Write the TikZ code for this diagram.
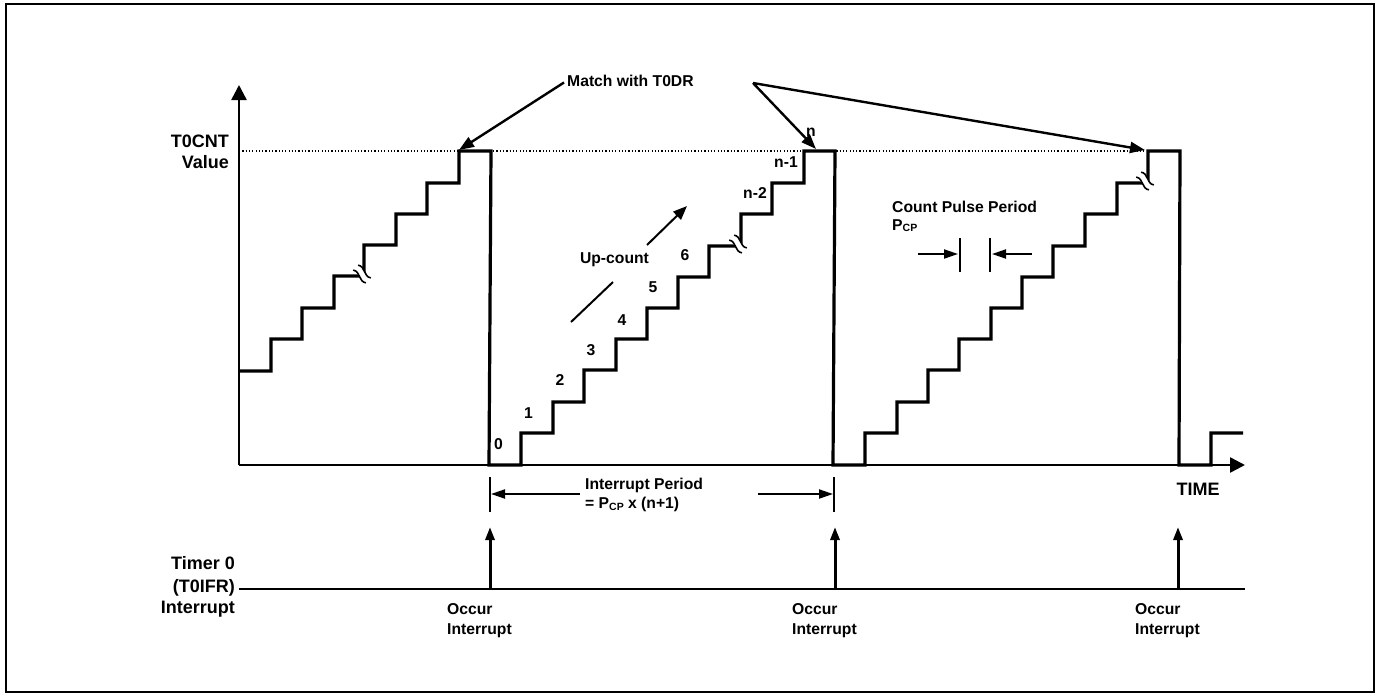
\documentclass[tikz,border=0pt]{standalone}
\usepackage{fontspec}
\setmainfont{Liberation Sans}
\usetikzlibrary{arrows.meta}
\newcommand{\pcp}{P\raisebox{-0.22ex}{\fontsize{10.5}{11}\selectfont CP}}
\begin{document}
\begin{tikzpicture}[x=1pt,y=-1pt,
  lbl/.style={font=\fontsize{15.7}{18}\selectfont\bfseries, inner sep=0pt, text height=11.3pt, text depth=0pt},
  biglbl/.style={font=\fontsize{18}{21}\selectfont\bfseries, inner sep=0pt, text height=12.9pt, text depth=0pt},
  wave/.style={line width=3.2pt, line join=miter},
  axisline/.style={line width=2.5pt, -{Triangle[length=15pt,width=15pt]}},
  matcharrow/.style={line width=2.4pt, -{Triangle[length=15pt,width=11pt]}},
  irqarrow/.style={line width=3pt, -{Triangle[length=13pt,width=9pt]}},
  dimarrow/.style={line width=2pt, -{Triangle[length=14pt,width=9pt]}},
  tick/.style={line width=1.5pt},
  brk/.pic={
    \begin{scope}[rotate=-45]
      \fill[white] (-9,-3.5) rectangle (9,3.5);
      \draw[line width=1.6pt] (-9,-3.5) .. controls (-3,-8) and (3,1) .. (9,-3.5);
      \draw[line width=1.6pt] (-9,3.5) .. controls (-3,-1) and (3,8) .. (9,3.5);
    \end{scope}}
]
\useasboundingbox (0,0) rectangle (1382,697);
\draw[line width=1.5pt] (6,4) rectangle (1374,692);

% axes
\coordinate (O) at (239,465);
\coordinate (ytip) at (239,85);
\coordinate (xtip) at (1245,465);
\draw[axisline] (O) -- (ytip);
\draw[axisline] (O) -- (xtip);

% dotted match level
\coordinate (dotL) at (239,151);
\coordinate (dotR) at (1148,151);
\draw[line width=1.2pt, dash pattern=on 1.2pt off 2.1pt] (dotL) -- (dotR);

% staircase waveform
\draw[wave] (239,371) -| (271,339) -| (302,308) -| (334,276) -| (364,245) -| (396,214) -| (427,183) -| (459,151)
  -- (491,151) -- (489,465)
  -| (521,433) -| (553,402) -| (584,370) -| (616,339) -| (647,308) -| (678,277) -| (709,246) -| (741,214) -| (772,183) -| (804,151)
  -- (835,151) -- (833,465)
  -| (865,433) -| (897,402) -| (928,370) -| (959,339) -| (991,308) -| (1022,277) -| (1053,246) -| (1085,214) -| (1117,183) -| (1148,151)
  -- (1180,151) -- (1179,465)
  -| (1211,433) -- (1243,433);

% breaks
\pic at (362,274) {brk};
\pic at (738,244) {brk};
\pic at (1145,181) {brk};

% axis labels
\node[biglbl, anchor=east] (t0cnt) at (229,141) {T0CNT};
\node[biglbl, anchor=east] (value) at (229,162) {Value};
\node[biglbl] (time) at (1198,489) {TIME};

% match with T0DR
\node[lbl, anchor=west] (match) at (567,80.5) {Match with T0DR};
\coordinate (msrc) at (753,83);
\coordinate (m1) at (459,150);
\coordinate (m2) at (816,149);
\coordinate (m3) at (1145,150);
\draw[matcharrow] (match.west) ++(-3,2) -- (m1);
\draw[matcharrow] (msrc) -- (m2);
\draw[matcharrow] (msrc) -- (m3);

% count labels
\node[lbl] (c0) at (498.5,444) {0};
\node[lbl] (c1) at (528.5,413) {1};
\node[lbl] (c2) at (560,380) {2};
\node[lbl] (c3) at (591,350) {3};
\node[lbl] (c4) at (622,320) {4};
\node[lbl] (c5) at (653,287) {5};
\node[lbl] (c6) at (685,255) {6};
\node[lbl] (cn2) at (755,193) {n-2};
\node[lbl] (cn1) at (786,162) {n-1};
\node[lbl] (cn) at (811,131) {n};

% up-count
\node[lbl] (upcount) at (614.5,258) {Up-count};
\coordinate (ua) at (571,322);
\coordinate (ub) at (613,282);
\coordinate (uc) at (647,245);
\coordinate (ud) at (687,206);
\draw[line width=2pt] (ua) -- (ub);
\draw[line width=2pt, -{Triangle[length=14pt,width=11pt]}] (uc) -- (ud);

% count pulse period
\node[lbl, anchor=west] (cpp) at (892,207) {Count Pulse Period};
\node[lbl, anchor=west] (pcp) at (892,224.5) {\pcp};
\coordinate (k1t) at (960,238); \coordinate (k1b) at (960,272);
\coordinate (k2t) at (990,238); \coordinate (k2b) at (990,272);
\draw[tick] (k1t) -- (k1b);
\draw[tick] (k2t) -- (k2b);
\coordinate (pa1) at (918,254); \coordinate (pa2) at (958,254);
\coordinate (pb1) at (1032,254); \coordinate (pb2) at (992,254);
\draw[dimarrow] (pa1) -- (pa2);
\draw[dimarrow] (pb1) -- (pb2);

% interrupt period
\coordinate (j1t) at (490,477); \coordinate (j1b) at (490,512);
\coordinate (j2t) at (834,477); \coordinate (j2b) at (834,512);
\draw[tick] (j1t) -- (j1b);
\draw[tick] (j2t) -- (j2b);
\coordinate (ja1) at (580,494); \coordinate (ja2) at (491,494);
\coordinate (jb1) at (758,494); \coordinate (jb2) at (833,494);
\draw[dimarrow] (ja1) -- (ja2);
\draw[dimarrow] (jb1) -- (jb2);
\node[lbl, anchor=west] (ip) at (585,484) {Interrupt Period};
\node[lbl, anchor=west] (ipf) at (585,503) {= \pcp\ x (n+1)};

% interrupt line
\node[biglbl, anchor=east] (tm) at (235,563.5) {Timer 0};
\node[biglbl, anchor=east] (tifr) at (235,586) {(T0IFR)};
\node[biglbl, anchor=east] (tint) at (235,607) {Interrupt};
\coordinate (irqL) at (239,589);
\coordinate (irqR) at (1245,589);
\draw[line width=2pt] (irqL) -- (irqR);
\foreach \x/\lx/\n in {490/447/a, 835/792/b, 1178/1135/c}{
  \coordinate (irq\n b) at (\x,589);
  \coordinate (irq\n t) at (\x,527);
  \draw[irqarrow] (irq\n b) -- (irq\n t);
  \node[lbl, anchor=west] (oc\n) at (\lx,608.5) {Occur};
  \node[lbl, anchor=west] (oi\n) at (\lx,628.5) {Interrupt};
}
\end{tikzpicture}
\end{document}
